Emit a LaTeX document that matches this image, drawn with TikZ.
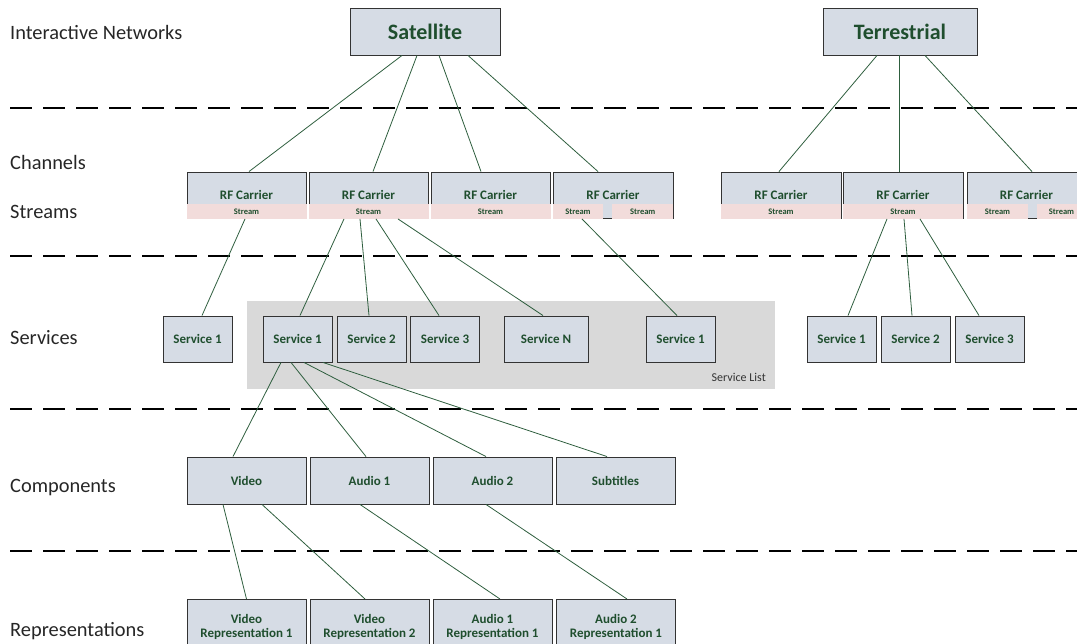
\documentclass[tikz,border=0pt]{standalone}
\usepackage{fontspec}
\setmainfont{Carlito}
\definecolor{boxblue}{HTML}{D6DCE5}
\definecolor{streampink}{HTML}{F2DCDB}
\definecolor{listgray}{HTML}{D9D9D9}
\definecolor{textgreen}{HTML}{1F4E2E}
\definecolor{linkgreen}{HTML}{2E5E3E}
\begin{document}
\begin{tikzpicture}[
  x=1pt, y=-1pt,
  box/.style={draw=black!80, line width=0.9pt, fill=boxblue, text=textgreen,
    inner sep=0pt, align=center, font=\fontsize{13}{13.5}\selectfont\bfseries},
  network/.style={box, minimum height=47, font=\fontsize{22}{24}\selectfont\bfseries},
  carrier/.style={box, minimum width=119, minimum height=46},
  stream/.style={fill=streampink, inner sep=0pt, minimum height=14.5, text=textgreen,
    font=\fontsize{8.5}{10}\selectfont\bfseries},
  service/.style={box, minimum width=69, minimum height=46},
  component/.style={box, minimum width=119, minimum height=47},
  representation/.style={box, minimum width=119, minimum height=55, anchor=north},
  layer/.style={anchor=base west, inner sep=0pt, text=black!85,
    font=\fontsize{20.4}{22}\selectfont},
  divider/.style={line width=2.7pt, dash pattern=on 22pt off 11pt},
  link/.style={draw=linkgreen, line width=0.8pt}
]
\useasboundingbox (0,0) rectangle (1077,643);
\clip (0,0) rectangle (1077,643);

% layer names
\node[layer] (lnet) at (10,39) {Interactive Networks};
\node[layer] (lchan) at (10,169) {Channels};
\node[layer] (lstream) at (10,218) {Streams};
\node[layer] (lserv) at (10,344) {Services};
\node[layer] (lcomp) at (10,492) {Components};
\node[layer] (lrep) at (10,636) {Representations};

\foreach \y in {108,256,409,551}
  \draw[divider] (10,\y) -- (1077,\y);

% networks
\node[network, minimum width=150] (sat) at (425,31.5) {Satellite};
\node[network, minimum width=154] (ter) at (900,31.5) {Terrestrial};

% channels and streams
\node[carrier] (rf1) at (246.5,195) {RF Carrier};
\node[carrier] (rf2) at (368.5,195) {RF Carrier};
\node[carrier] (rf3) at (490.5,195) {RF Carrier};
\node[carrier, minimum width=120] (rf4) at (613,195) {RF Carrier};
\node[carrier, minimum width=120] (rf5) at (781,195) {RF Carrier};
\node[carrier, minimum width=120] (rf6) at (903,195) {RF Carrier};
\node[carrier] (rf7) at (1026.5,195) {RF Carrier};

\foreach \n in {1,2,3,5,6}
  \node[stream, minimum width=120, anchor=south] (st\n) at ([yshift=-0.5pt]rf\n.south) {Stream};
\node[stream, minimum width=50.5, anchor=south west] (st4a) at ([yshift=-0.5pt]rf4.south west) {Stream};
\node[stream, minimum width=61, anchor=south east] (st4b) at ([yshift=-0.5pt]rf4.south east) {Stream};
\node[stream, minimum width=61.5, anchor=south west] (st7a) at ([yshift=-0.5pt]rf7.south west) {Stream};
\node[stream, minimum width=49.5, anchor=south east] (st7b) at ([yshift=-0.5pt]rf7.south east) {Stream};

% services
\node[fill=listgray, inner sep=0pt, minimum width=528, minimum height=88, anchor=north west] (list) at (247,301) {};
\node[anchor=east, inner sep=0pt, text=black!80, font=\fontsize{12}{14}\selectfont] (listname) at (766,377) {Service List};

\node[service] (sv1) at (197.5,339) {Service 1};
\node[service] (sv2) at (297.5,339) {Service 1};
\node[service] (sv3) at (371.5,339) {Service 2};
\node[service] (sv4) at (445,339) {Service 3};
\node[service, minimum width=84] (sv5) at (546,339) {Service N};
\node[service] (sv6) at (680.5,339) {Service 1};
\node[service] (sv7) at (841.5,339) {Service 1};
\node[service] (sv8) at (915.5,339) {Service 2};
\node[service] (sv9) at (989.5,339) {Service 3};

% components
\node[component] (video) at (246.5,480.5) {Video};
\node[component] (audio1) at (369.5,480.5) {Audio 1};
\node[component] (audio2) at (492.5,480.5) {Audio 2};
\node[component] (subs) at (615.5,480.5) {Subtitles};

% representations
\node[representation] (rep1) at (246.5,599) {Video\\Representation 1};
\node[representation] (rep2) at (369.5,599) {Video\\Representation 2};
\node[representation] (rep3) at (492.5,599) {Audio 1\\Representation 1};
\node[representation] (rep4) at (616,599) {Audio 2\\Representation 1};

% connectors
\foreach \a/\da/\b/\db in {
    sat/-23pt/rf1/2.5pt, sat/-8pt/rf2/4.5pt, sat/14pt/rf3/-9.5pt, sat/43pt/rf4/-15pt,
    ter/-23pt/rf5/-2pt, ter/-1pt/rf6/-4pt, ter/25pt/rf7/5.5pt,
    st1/-1.5pt/sv1/4.5pt,
    st2/-24.5pt/sv2/2.5pt, st2/-8.5pt/sv3/-2.5pt, st2/7.5pt/sv4/-6pt, st2/29.5pt/sv5/-3pt,
    st4a/4pt/sv6/-3.5pt,
    st6/-16pt/sv7/6.5pt, st6/1pt/sv8/-3.5pt, st6/17pt/sv9/-10.5pt,
    sv2/-16.5pt/video/-13.5pt, sv2/-6.5pt/audio1/-3.5pt, sv2/6.5pt/audio2/-6.5pt, sv2/25.5pt/subs/-8.5pt,
    video/-23.5pt/rep1/0pt, video/15.5pt/rep2/-4.5pt,
    audio1/-9.5pt/rep3/7.5pt, audio2/-6.5pt/rep4/11pt}
  \draw[link] ([xshift=\da]\a.south) -- ([xshift=\db]\b.north);
\end{tikzpicture}
\end{document}
